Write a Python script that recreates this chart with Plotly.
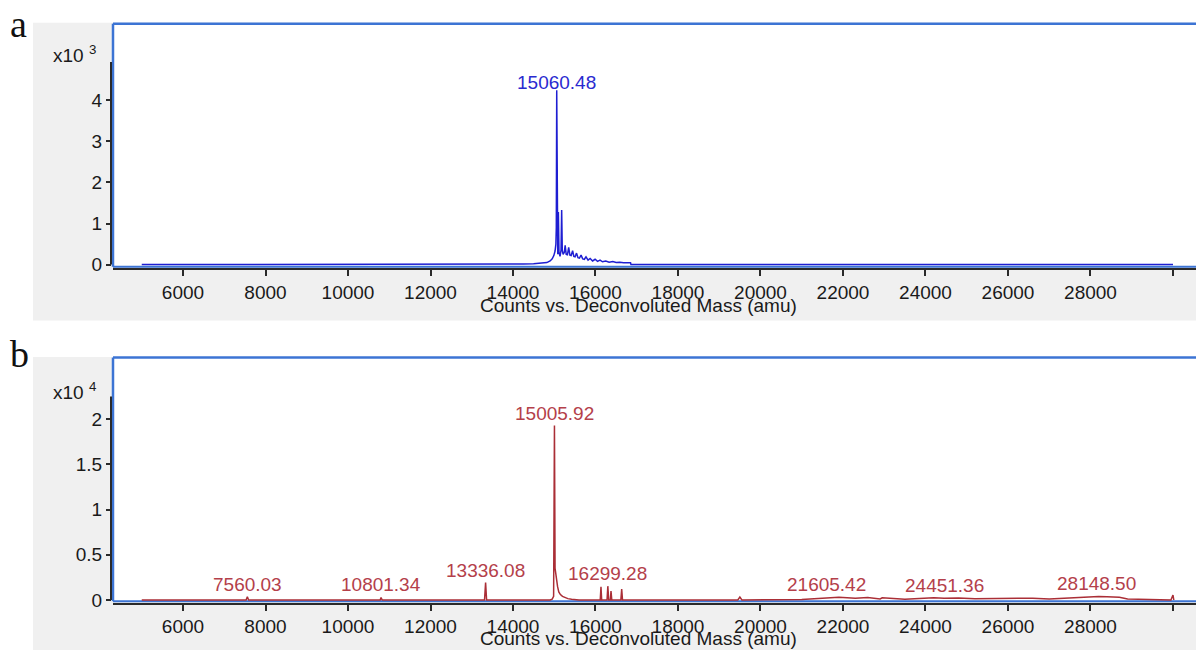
import plotly.graph_objects as go

W, H = 1196, 659
def px(x): return x / W
def py(y): return 1 - y / H

# ---------------- data ----------------
# panel a: deconvoluted spectrum (mass, counts)
a_mass = [5000, 14000, 14250, 14500, 14700, 14820, 14900, 14950, 14990, 15020, 15040, 15050,
          15060, 15070, 15085, 15100, 15115, 15140, 15165, 15180, 15195, 15215, 15245, 15265,
          15290, 15320, 15350, 15380, 15410, 15445, 15475, 15505, 15540, 15575, 15610, 15650,
          15690, 15730, 15770, 15820, 15870, 15930, 15990, 16050, 16110, 16170, 16250, 16330,
          16420, 16500, 16590, 16680, 16780, 16850, 16860, 30000]
a_counts = [0, 0, 15, 20, 30, 50, 90, 140, 220, 330, 500, 900,
            4240, 700, 250, 1280, 300, 200, 350, 1330, 350, 250, 300, 470,
            250, 240, 420, 230, 220, 340, 200, 190, 280, 170, 160, 230,
            140, 130, 190, 110, 150, 90, 130, 80, 110, 70, 90, 60,
            75, 50, 60, 45, 55, 45, 0, 0]
a_labels = ["15060.48"]
a_label_mass = [15060]
a_label_counts = [4240]

# panel b
b_mass = [5000, 7530, 7560, 7590, 10780, 10801, 10830, 13310, 13336, 13360,
          14900, 14950, 14985, 15005, 15020, 15040, 15060, 15080, 15110, 15150, 15200,
          15260, 15330, 15420, 15520, 15600,
          16115, 16133, 16150, 16280, 16299, 16320, 16360, 16376, 16395, 16615, 16635, 16655,
          17500, 19450, 19500, 19550, 21000, 21300, 21600, 21900, 22300, 22600, 22900, 22950,
          23500, 24000, 24200, 24450, 24800, 25200, 25600, 26000, 26300, 26600, 27000,
          27600, 27800, 28000, 28200, 28400, 28700, 28900, 29950, 30000, 30020]
b_counts = [0, 0, 350, 0, 0, 280, 0, 0, 1920, 0,
            0, 100, 400, 19300, 3500, 2600, 2200, 1500, 900, 600, 400,
            250, 150, 80, 30, 0,
            0, 1450, 0, 0, 1530, 0, 0, 980, 0, 0, 1200, 0,
            0, 0, 320, 0, 60, 150, 250, 300, 200, 280, 120, 250,
            80, 150, 250, 200, 220, 150, 180, 200, 160, 200, 100,
            250, 350, 400, 380, 350, 300, 100, 0, 550, 0]
b_labels = ["7560.03", "10801.34", "13336.08", "15005.92", "16299.28", "21605.42", "24451.36", "28148.50"]
b_label_mass = [7560, 10801, 13336, 15006, 16299, 21605, 24451, 28149]
b_label_counts = [350, 280, 1920, 19300, 1530, 300, 250, 400]

x_ticks = [6000, 8000, 10000, 12000, 14000, 16000, 18000, 20000, 22000, 24000, 26000, 28000, 30000]
x_ticktext = ["6000", "8000", "10000", "12000", "14000", "16000", "18000", "20000",
              "22000", "24000", "26000", "28000", ""]
a_yticks = [0, 1000, 2000, 3000, 4000]
a_yticktext = ["0", "1", "2", "3", "4"]
b_yticks = [0, 5000, 10000, 15000, 20000]
b_yticktext = ["0", "0.5", "1", "1.5", "2"]
x_title = "Counts vs. Deconvoluted Mass (amu)"

# ---------------- styles ----------------
FONT = "Liberation Sans, Arial, sans-serif"
FS = 19
BLUE_LINE = "#1e1ed2"
BLUE_TXT = "#2a2ad0"
RED_LINE = "#aa2e36"
RED_TXT = "#b4404a"
FRAME = "#3c74d4"
GRAY = "#f0f0f0"
TXT = "#1a1a1a"

fig = go.Figure()
fig.add_trace(go.Scatter(x=a_mass, y=a_counts, mode="lines", xaxis="x", yaxis="y",
                         line=dict(color=BLUE_LINE, width=1.5), hoverinfo="skip"))
fig.add_trace(go.Scatter(x=b_mass, y=b_counts, mode="lines", xaxis="x2", yaxis="y2",
                         line=dict(color=RED_LINE, width=1.5), hoverinfo="skip"))

xr = [4303, 30558]
common_x = dict(range=xr, tickvals=x_ticks, ticktext=x_ticktext, showgrid=False, zeroline=False,
                showline=True, linecolor="#2a2a2a", linewidth=2, ticks="outside", ticklen=6,
                tickwidth=1.5, tickcolor="#2a2a2a", tickfont=dict(family=FONT, size=FS, color=TXT),
                anchor="free", fixedrange=True)
common_y = dict(showgrid=False, zeroline=False, showline=False, ticks="outside", ticklen=5,
                tickwidth=1.5, tickcolor="#2a2a2a", tickfont=dict(family=FONT, size=FS, color=TXT),
                anchor="free", position=px(111), fixedrange=True)

fig.update_layout(
    width=W, height=H, margin=dict(l=0, r=0, t=0, b=0),
    paper_bgcolor="white", plot_bgcolor="rgba(0,0,0,0)", showlegend=False,
    xaxis=dict(domain=[px(113), 1], position=py(273), **common_x),
    yaxis=dict(domain=[py(271), py(24)], range=[-65, 5862], tickvals=a_yticks,
               ticktext=a_yticktext, **common_y),
    xaxis2=dict(domain=[px(113), 1], position=py(612), **common_x),
    yaxis2=dict(domain=[py(610), py(362.5)], range=[-185, 26820], tickvals=b_yticks,
                ticktext=b_yticktext, **common_y),
)

shapes = []
# gray panels
for (y0, y1) in [(23, 325), (362, 659)]:
    shapes.append(dict(type="rect", xref="paper", yref="paper", x0=px(33), x1=1, y0=py(y1), y1=py(y0),
                       fillcolor=GRAY, line=dict(width=0), layer="below"))
# white plot areas
for (y0, y1) in [(24, 270.5), (362.5, 609.5)]:
    shapes.append(dict(type="rect", xref="paper", yref="paper", x0=px(113), x1=1, y0=py(y1), y1=py(y0),
                       fillcolor="white", line=dict(width=0), layer="below"))
# blue frames
for (y0, y1) in [(24, 270.5), (362.5, 609.5)]:
    shapes.append(dict(type="line", xref="paper", yref="paper", x0=px(113), x1=1, y0=py(y0), y1=py(y0),
                       line=dict(color=FRAME, width=2.5), layer="below"))
    shapes.append(dict(type="line", xref="paper", yref="paper", x0=px(113), x1=1, y0=py(y1), y1=py(y1),
                       line=dict(color=FRAME, width=2), layer="below"))
    shapes.append(dict(type="line", xref="paper", yref="paper", x0=px(113), x1=px(113), y0=py(y1), y1=py(y0),
                       line=dict(color=FRAME, width=2.5), layer="below"))
# black y axis lines (extend to ~1.15 x max)
shapes.append(dict(type="line", xref="paper", yref="y", x0=px(111), x1=px(111), y0=0, y1=max(a_counts) * 1.163,
                   line=dict(color="#2a2a2a", width=2)))
shapes.append(dict(type="line", xref="paper", yref="y2", x0=px(111), x1=px(111), y0=0, y1=max(b_counts) * 1.166,
                   line=dict(color="#2a2a2a", width=2)))
fig.update_layout(shapes=shapes)

ann = []
for t, m, c in zip(a_labels, a_label_mass, a_label_counts):
    ann.append(dict(x=m, y=c, xref="x", yref="y", text=t, showarrow=False, xanchor="center",
                    yanchor="bottom", yshift=-5, font=dict(family=FONT, size=FS, color=BLUE_TXT)))
for t, m, c in zip(b_labels, b_label_mass, b_label_counts):
    ann.append(dict(x=m, y=c, xref="x2", yref="y2", text=t, showarrow=False, xanchor="center",
                    yanchor="bottom", yshift=0, font=dict(family=FONT, size=FS, color=RED_TXT)))
# exponent labels
for y, e in [(55, "3"), (396, "4")]:
    ann.append(dict(x=px(51), y=py(y), xref="paper", yref="paper", text="x10 <sup>" + e + "</sup>",
                    showarrow=False, xanchor="left", yanchor="middle",
                    font=dict(family=FONT, size=FS, color=TXT)))
# axis titles
for y in [310, 647]:
    ann.append(dict(x=px(638), y=py(y), xref="paper", yref="paper", text=x_title, showarrow=False,
                    xanchor="center", yanchor="middle", font=dict(family=FONT, size=FS, color=TXT)))
# panel letters
for y, s in [(24, "a"), (359, "b")]:
    ann.append(dict(x=px(8), y=py(y), xref="paper", yref="paper", text=s, showarrow=False,
                    xanchor="left", yanchor="middle", font=dict(family="Liberation Serif, Times New Roman, serif",
                                                                  size=38, color="#111")))
fig.update_layout(annotations=ann)

fig.write_html("out.html")
